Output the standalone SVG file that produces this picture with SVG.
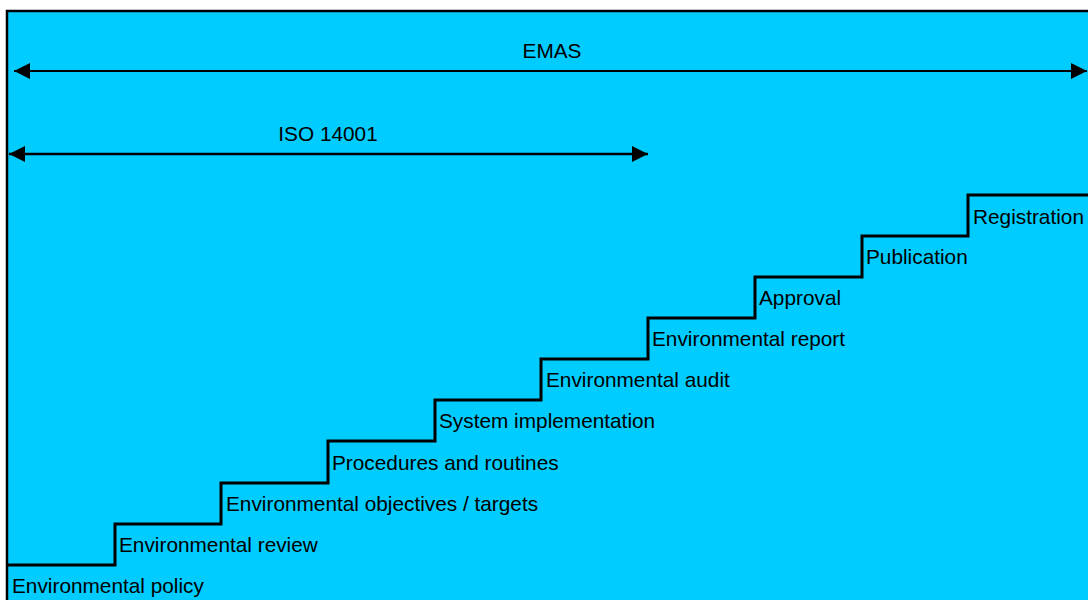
<svg xmlns="http://www.w3.org/2000/svg" width="1088" height="600" viewBox="0 0 1088 600">
<defs>
<style>
text{font-family:"Liberation Sans",Arial,sans-serif;font-size:20.8px;fill:#000}
.ln{fill:none;stroke:#000}
</style>
<marker id="ah" viewBox="0 0 16 16" refX="16" refY="8" markerWidth="16" markerHeight="16" markerUnits="userSpaceOnUse" orient="auto-start-reverse">
<path d="M0,0 L16,8 L0,16 Z" fill="#000"/>
</marker>
</defs>
<rect x="0" y="0" width="1088" height="600" fill="#fff"/>
<rect x="7" y="11" width="1090" height="600" fill="#00CCFF"/>
<path class="ln" d="M7,600 V11 H1088" stroke-width="2.5"/>
<g id="connectors">
<line class="ln" x1="14" y1="71" x2="1087" y2="71" stroke-width="1.8" marker-start="url(#ah)" marker-end="url(#ah)"/>
<line class="ln" x1="9" y1="154" x2="648" y2="154" stroke-width="2.5" marker-start="url(#ah)" marker-end="url(#ah)"/>
<path id="stairs" class="ln" stroke-width="3" d="M8,565 H115 V524 H221 V483 H328 V441 H435 V400 H541 V359 H648 V318 H755 V277 H862 V236 H968 V195 H1090"/>
</g>
<g id="emas"><text x="552" y="58" text-anchor="middle">EMAS</text></g>
<g id="iso"><text x="328" y="141" text-anchor="middle">ISO 14001</text></g>
<g id="s1"><text x="12" y="593">Environmental policy</text></g>
<g id="s2"><text x="119" y="552">Environmental review</text></g>
<g id="s3"><text x="226" y="511">Environmental objectives / targets</text></g>
<g id="s4"><text x="332" y="470">Procedures and routines</text></g>
<g id="s5"><text x="439" y="428">System implementation</text></g>
<g id="s6"><text x="546" y="387">Environmental audit</text></g>
<g id="s7"><text x="652" y="346">Environmental report</text></g>
<g id="s8"><text x="759" y="305">Approval</text></g>
<g id="s9"><text x="866" y="264">Publication</text></g>
<g id="s10"><text x="973" y="224">Registration</text></g>
</svg>
